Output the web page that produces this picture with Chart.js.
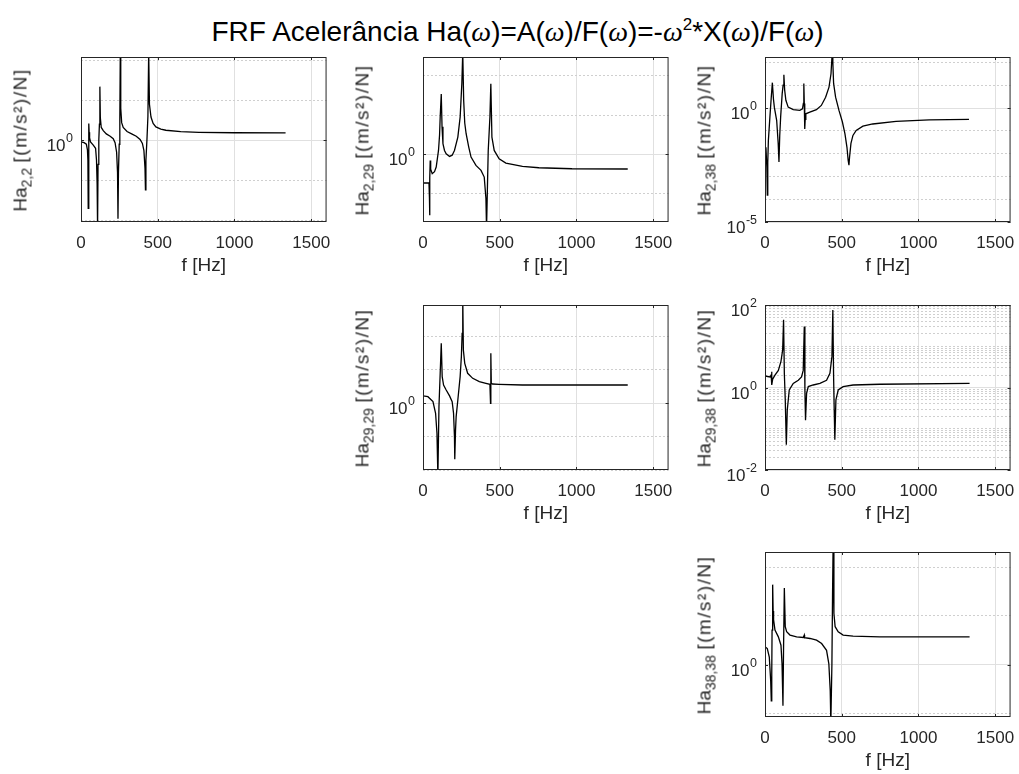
<!DOCTYPE html>
<html>
<head>
<meta charset="utf-8">
<title>FRF Acelerância</title>
<script src="https://cdn.jsdelivr.net/npm/chart.js@4.4.1/dist/chart.umd.min.js"></script>
<style>
  html, body { margin: 0; padding: 0; background: #fff; }
  body { position: relative; width: 1019px; height: 774px; overflow: hidden;
         font-family: "Liberation Sans", Arial, Helvetica, sans-serif; color: #262626; }
  #title { position: absolute; left: 8px; top: 18px; width: 1019px; text-align: center;
           font-size: 28px; line-height: 28px; color: #000; white-space: nowrap; }
  #title i { font-family: "Liberation Serif", serif; }
  #title sup { font-size: 17px; line-height: 0; vertical-align: 11px; }
  canvas { position: absolute; }
  .ylab { position: absolute; white-space: nowrap; font-size: 19px; line-height: 19px;
          transform: translate(-50%, -50%) rotate(-90deg); }
  .ylab sub { font-size: 14px; line-height: 0; vertical-align: -5px; }
  .ylab .u { letter-spacing: 1.5px; }
</style>
</head>
<body>
<div id="title">FRF Acelerância Ha(<i>ω</i>)=A(<i>ω</i>)/F(<i>ω</i>)=-<i>ω</i><sup>2</sup>*X(<i>ω</i>)/F(<i>ω</i>)</div>
<script>
// frequency axis ticks (Hz)
const xTicks = [0, 500, 1000, 1500];

// Ha 2,2
const f22 = [0, 20, 35, 42, 45, 47, 49, 51, 52, 53, 56, 62, 80, 95, 101, 105, 108, 111, 116, 120,
  123, 126, 132, 145, 165, 190, 210, 222, 232, 238, 241, 244, 249, 253, 256, 259, 265, 275, 300, 330,
  360, 385, 400, 410, 417, 420, 423, 430, 436, 441, 446, 456, 470, 488, 520, 553, 650, 768, 1000, 1333];
const ha22 = [0.63, 0.5, 0.32, 0.063, 3.2e-3, 3.2e-9, 0.01, 3.2, 126, 10, 2.0, 0.63, 0.25, 0.1, 3.2e-3, 4.0e-6, 1e-11, 1e-3, 1, 100,
  5.0e6, 630, 40, 16, 6.3, 3.2, 1.6, 0.5, 0.032, 1e-4, 1.6e-10, 1e-4, 0.32, 320, 1e11, 1e4, 160, 40, 12.6, 6.3,
  3.2, 1.26, 0.4, 0.05, 3.2e-4, 6.3e-7, 3.2e-3, 1.6, 1000, 1e11, 3.2e4, 790, 126, 47, 25, 18, 12, 10, 8.7, 8.3];

// Ha 2,29
const f229 = [0, 39, 42, 43, 45, 47, 50, 60, 75, 86, 101, 108, 112, 119, 124, 130, 140, 151, 173, 190,
  205, 227, 242, 253, 259, 265, 272, 281, 298, 313, 345, 378, 399, 410, 414, 420, 425, 436, 442, 449,
  464, 496, 540, 648, 755, 971, 1334];
const ha229 = [2.3e-4, 2.3e-4, 3.2e-6, 1.8e-8, 1e-3, 0.17, 0.013, 3.5e-3, 6.3e-3, 0.025, 3.2, 320, 5.6e4, 5.0e7, 3.2e3, 23, 3.2, 1.2, 0.56, 0.79,
  3.2, 160, 5.6e4, 1e9, 1e13, 7.9e6, 1e4, 430, 8.5, 0.46, 0.04, 9.3e-3, 1.3e-3, 2.5e-6, 3.2e-10, 1e-4, 3.2, 5.6e4, 1e9, 160,
  3.2, 0.28, 0.079, 0.03, 0.02, 0.015, 0.014];

// Ha 2,38
const f238 = [6, 12, 15, 18, 22, 32, 40, 48, 55, 61, 76, 86, 91, 96, 102, 112, 118, 123, 128, 136,
  151, 184, 227, 244, 250, 253, 256, 259, 262, 266, 292, 335, 367, 395, 417, 430, 436, 439, 442, 447,
  460, 482, 504, 521, 534, 542, 547, 551, 560, 573, 594, 638, 702, 854, 1070, 1329];
const ha238 = [0.019, 2.5e-3, 1.5e-4, 4.0e-3, 0.038, 0.41, 2.5, 13, 2.5, 1.07, 0.29, 0.028, 4.3e-3, 0.063, 0.41, 4.3, 10, 29, 6.3, 2.2,
  1.1, 0.85, 0.79, 0.93, 1.6, 12, 1.6, 0.12, 0.32, 0.56, 0.66, 0.85, 1.3, 3.0, 8.3, 32, 160, 1000, 100, 12,
  3.0, 0.79, 0.25, 0.074, 0.019, 5.0e-3, 3.1e-3, 7.1e-3, 0.028, 0.063, 0.105, 0.16, 0.2, 0.26, 0.3, 0.32];

// Ha 29,29
const f2929 = [0, 32, 65, 82, 91, 97, 104, 112, 119, 125, 134, 151, 173, 190, 199, 205, 207, 212, 216, 227,
  242, 250, 255, 259, 263, 272, 291, 324, 367, 410, 436, 440, 442, 445, 453, 496, 648, 971, 1334];
const ha2929 = [13, 10, 1.8, 0.032, 3.2e-5, 1e-11, 0.32, 3.2e4, 1e9, 1e4, 560, 100, 13, 1.8, 0.032, 1e-5, 4.0e-9, 1e-4, 0.01, 3.2,
  1e4, 1e7, 3.2e10, 1e16, 1e8, 1e6, 3.2e4, 5.6e3, 1.8e3, 1e3, 710, 1, 3.2e7, 1e3, 790, 710, 560, 560, 560];

// Ha 29,38
const f2938 = [0, 33, 40, 43, 45, 50, 65, 87, 104, 115, 121, 126, 132, 139, 145, 158, 184, 217, 238, 249,
  256, 260, 264, 271, 282, 314, 358, 401, 423, 436, 442, 447, 451, 455, 462, 477, 509, 574, 748, 1333];
const ha2938 = [1.9, 1.8, 2.0, 2.4, 1.15, 1.6, 2.0, 2.6, 4.3, 8.1, 44, 2.2, 0.5, 0.041, 0.28, 0.87, 1.26, 1.5, 1.8, 2.6,
  30, 0.87, 0.16, 0.72, 1.05, 1.15, 1.26, 1.5, 2.2, 5.6, 76, 1.8, 0.28, 0.054, 0.5, 0.87, 1.05, 1.15, 1.2, 1.26];

// Ha 38,38
const f3838 = [0, 15, 28, 37, 41, 44, 46, 50, 53, 56, 65, 87, 104, 111, 117, 121, 126, 132, 141, 163,
  206, 249, 254, 256, 257, 259, 293, 336, 369, 401, 416, 425, 429, 436, 440, 444, 449, 457, 477, 509,
  574, 748, 1333];
const ha3838 = [68, 46, 6.2, 0.024, 2.0e-4, 0.1, 3.5e3, 1.6e8, 3.2e5, 3.9e4, 3.5e3, 720, 100, 1.26, 6.3e-5, 68, 7.2e7, 7.9e3, 2.4e3, 1.1e3,
  720, 620, 620, 1.1e3, 500, 600, 490, 330, 150, 30, 1.26, 2.2e-3, 1e-6, 1.26, 1e7, 3.2e12, 1.9e5, 7.9e3, 2.4e3, 1.1e3,
  850, 720, 720];

// y ticks: labelled decades and dashed (minor) grid decades
const yMajor22 = [1],  yMinor22 = [1e-10, 1e-5, 1e5, 1e10];
const yMajor229 = [1], yMinor229 = [1e-5, 1e5, 1e10];
const yMajor238 = [1e-5, 1], yMinor238 = [1e-4, 1e-3, 1e-2, 1e-1, 10, 100];
const yMajor2929 = [1], yMinor2929 = [1e-10, 1e-5, 1e5, 1e10];
const yMajor2938 = [1e-2, 1, 1e2];
const yMinor2938 = [0.02, 0.03, 0.04, 0.05, 0.06, 0.07, 0.08, 0.09, 0.1, 0.2, 0.3, 0.4, 0.5, 0.6, 0.7, 0.8, 0.9,
  2, 3, 4, 5, 6, 7, 8, 9, 10, 20, 30, 40, 50, 60, 70, 80, 90];
const yMajor3838 = [1], yMinor3838 = [1e-5, 1e5, 1e10];

const panels = [
  { row: 0, col: 0, sub: '2,2',   f: f22,   ha: ha22,   yMin: 6.3e-11, yMax: 2.5e10, major: yMajor22,   minor: yMinor22 },
  { row: 0, col: 1, sub: '2,29',  f: f229,  ha: ha229,  yMin: 2.5e-9,  yMax: 2.5e12, major: yMajor229,  minor: yMinor229 },
  { row: 0, col: 2, sub: '2,38',  f: f238,  ha: ha238,  yMin: 1e-5,    yMax: 174,    major: yMajor238,  minor: yMinor238 },
  { row: 1, col: 1, sub: '29,29', f: f2929, ha: ha2929, yMin: 1e-10,   yMax: 5.6e14, major: yMajor2929, minor: yMinor2929 },
  { row: 1, col: 2, sub: '29,38', f: f2938, ha: ha2938, yMin: 1e-2,    yMax: 1e2,    major: yMajor2938, minor: yMinor2938 },
  { row: 2, col: 2, sub: '38,38', f: f3838, ha: ha3838, yMin: 4.5e-6,  yMax: 3.5e11, major: yMajor3838, minor: yMinor3838 }
];

const colX = [81, 423, 765];
const rowY = [57, 305, 552];
const BOX_W = 247, BOX_H = 165;
const PAD_L = 75, PAD_T = 14, PAD_R = 14, AX_H = 62;
const INK = '#262626';
const FONT = '"Liberation Sans", Arial, sans-serif';

Chart.defaults.font.family = FONT;
Chart.defaults.color = INK;

// box, inward ticks and 10^n labels like the original figure
const matlabAxes = {
  id: 'matlabAxes',
  afterDraw(chart, args, opts) {
    const { ctx, chartArea: a } = chart;
    const ys = chart.scales.y, xs = chart.scales.x;
    ctx.save();
    ctx.strokeStyle = INK;
    ctx.lineWidth = 1;
    ctx.strokeRect(a.left + 0.5, a.top + 0.5, a.right - a.left - 1, a.bottom - a.top - 1);
    ctx.beginPath();
    xTicks.forEach(v => {
      const x = Math.round(xs.getPixelForValue(v)) + 0.5;
      ctx.moveTo(x, a.bottom); ctx.lineTo(x, a.bottom - 3);
      ctx.moveTo(x, a.top); ctx.lineTo(x, a.top + 3);
    });
    opts.major.forEach(v => {
      const y = Math.round(ys.getPixelForValue(v)) + 0.5;
      ctx.moveTo(a.left, y); ctx.lineTo(a.left + 3, y);
      ctx.moveTo(a.right, y); ctx.lineTo(a.right - 3, y);
    });
    ctx.stroke();

    ctx.fillStyle = INK;
    ctx.textAlign = 'right';
    ctx.textBaseline = 'alphabetic';
    opts.major.forEach(v => {
      const y = ys.getPixelForValue(v);
      const e = String(Math.round(Math.log10(v)));
      ctx.font = '12.5px ' + FONT;
      const we = ctx.measureText(e).width;
      ctx.fillText(e, a.left - 8, y + 2);
      ctx.font = '17px ' + FONT;
      ctx.fillText('10', a.left - 8 - we - 0.5, y + 11);
    });
    ctx.restore();
  }
};

function makePanel(p) {
  const left = colX[p.col], top = rowY[p.row];
  const cv = document.createElement('canvas');
  cv.width = PAD_L + BOX_W + PAD_R;
  cv.height = PAD_T + BOX_H + AX_H;
  cv.style.left = (left - PAD_L) + 'px';
  cv.style.top = (top - PAD_T) + 'px';
  document.body.appendChild(cv);

  const lab = document.createElement('div');
  lab.className = 'ylab';
  lab.style.left = (left - 61.5) + 'px';
  lab.style.top = (top + BOX_H / 2) + 'px';
  lab.innerHTML = 'Ha<sub>' + p.sub + '</sub> <span class="u">[(m/s²)/N]</span>';
  document.body.appendChild(lab);

  new Chart(cv, {
    type: 'line',
    data: {
      datasets: [{
        data: p.f.map((x, i) => ({ x: x, y: p.ha[i] })),
        borderColor: '#000',
        borderWidth: 1.3,
        pointRadius: 0,
        tension: 0,
        fill: false
      }]
    },
    options: {
      responsive: false,
      animation: false,
      devicePixelRatio: 1,
      events: [],
      layout: { padding: { left: 0, top: PAD_T, right: PAD_R, bottom: 0 } },
      plugins: {
        legend: { display: false },
        tooltip: { enabled: false },
        matlabAxes: { major: p.major }
      },
      scales: {
        x: {
          type: 'linear', min: 0, max: 1600, bounds: 'data',
          afterBuildTicks: s => { s.ticks = xTicks.map(v => ({ value: v })); },
          afterFit: s => { s.height = AX_H; },
          grid: { color: '#e0e0e0', drawTicks: false },
          border: { display: false },
          ticks: { padding: 11, maxRotation: 0, autoSkip: false, color: INK, font: { size: 17 },
                   callback: v => String(v) },
          title: { display: true, text: 'f [Hz]', color: INK, font: { size: 19 }, padding: { top: 0, bottom: 7 } }
        },
        y: {
          type: 'logarithmic', position: 'left', min: p.yMin, max: p.yMax, bounds: 'data',
          afterBuildTicks: s => { s.ticks = p.major.map(v => ({ value: v })); },
          afterFit: s => { s.width = PAD_L; },
          grid: { color: '#e0e0e0', drawTicks: false },
          border: { display: false },
          ticks: { display: false }
        },
        ym: {
          type: 'logarithmic', position: 'left', min: p.yMin, max: p.yMax, bounds: 'data',
          afterBuildTicks: s => { s.ticks = p.minor.map(v => ({ value: v })); },
          afterFit: s => { s.width = 0; },
          grid: { color: '#cfcfcf', drawTicks: false },
          border: { display: false, dash: [2, 2] },
          ticks: { display: false }
        }
      }
    },
    plugins: [matlabAxes]
  });
}

panels.forEach(makePanel);
</script>
</body>
</html>
